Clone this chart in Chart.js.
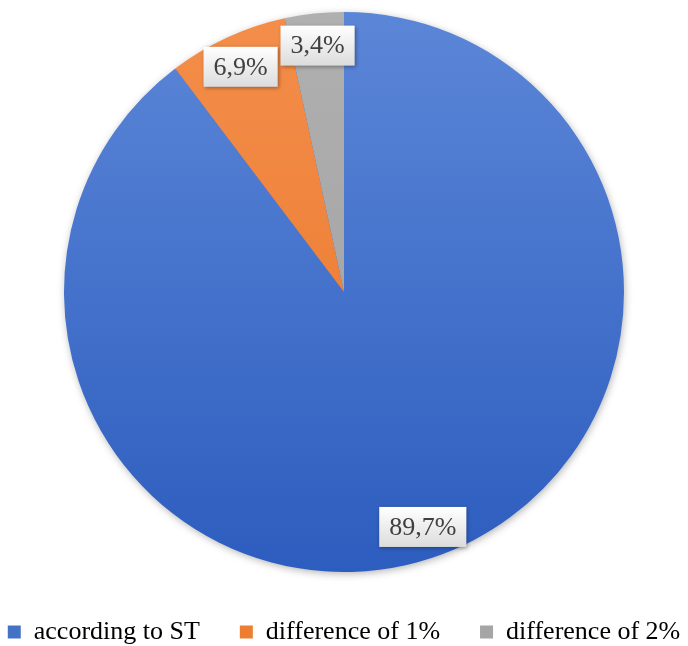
<!DOCTYPE html>
<html>
<head>
<meta charset="utf-8">
<script src="https://cdn.jsdelivr.net/npm/chart.js@4/dist/chart.umd.min.js"></script>
<style>
html,body{margin:0;padding:0;background:#fff;overflow:hidden;}
#wrap{width:688px;height:646px;position:relative;overflow:hidden;}
#c{position:absolute;left:-36px;top:0;}
</style>
</head>
<body>
<div id="wrap"><canvas id="c" width="760" height="646"></canvas></div>
<script>
const categories = ['according to ST', 'difference of 1%', 'difference of 2%'];
const values = [89.7, 6.9, 3.4];
const valueLabels = ['89,7%', '6,9%', '3,4%'];
const colorTop = ['#5C87D8', '#F48E4A', '#B0B0B0'];
const colorBottom = ['#2C5CBE', '#E8752A', '#9E9E9E'];
const legendColors = ['#4472C4', '#ED7D31', '#A5A5A5'];

const SERIF = '"Liberation Serif", "Times New Roman", serif';

function sliceFill(ctx) {
  const chart = ctx.chart;
  const area = chart.chartArea;
  if (!area) return legendColors[ctx.dataIndex];
  const meta = chart.getDatasetMeta(0);
  const el = meta.data[ctx.dataIndex];
  let cy = (area.top + area.bottom) / 2, r = Math.min(area.width, area.height) / 2;
  if (el && el.outerRadius) { cy = el.y; r = el.outerRadius; }
  const g = chart.ctx.createLinearGradient(0, cy - r, 0, cy + r);
  g.addColorStop(0, colorTop[ctx.dataIndex]);
  g.addColorStop(1, colorBottom[ctx.dataIndex]);
  return g;
}

const shadowPlugin = {
  id: 'pieShadow',
  beforeDatasetsDraw(chart) {
    const el = chart.getDatasetMeta(0).data[0];
    if (!el) return;
    const ctx = chart.ctx;
    ctx.save();
    ctx.shadowColor = 'rgba(0,0,0,0.35)';
    ctx.shadowBlur = 9;
    ctx.shadowOffsetX = 1;
    ctx.shadowOffsetY = 2;
    ctx.fillStyle = '#3A68C6';
    ctx.beginPath();
    ctx.arc(el.x, el.y, el.outerRadius - 1, 0, Math.PI * 2);
    ctx.fill();
    ctx.restore();
  }
};

const labelPlugin = {
  id: 'boxLabels',
  afterDatasetsDraw(chart) {
    const ctx = chart.ctx;
    const meta = chart.getDatasetMeta(0);
    ctx.save();
    ctx.font = '26px ' + SERIF;
    ctx.textAlign = 'center';
    ctx.textBaseline = 'middle';
    meta.data.forEach((el, i) => {
      const mid = (el.startAngle + el.endAngle) / 2;
      const r = el.outerRadius * 0.885;
      const x = el.x + Math.cos(mid) * r;
      const y = el.y + Math.sin(mid) * r;
      const txt = valueLabels[i];
      const w = ctx.measureText(txt).width + 20;
      const h = 40;
      const g = ctx.createLinearGradient(0, y - h / 2, 0, y + h / 2);
      g.addColorStop(0, '#FFFFFF');
      g.addColorStop(1, '#DCDCDC');
      ctx.save();
      ctx.shadowColor = 'rgba(0,0,0,0.35)';
      ctx.shadowBlur = 4;
      ctx.shadowOffsetX = 1;
      ctx.shadowOffsetY = 1;
      ctx.fillStyle = g;
      ctx.fillRect(x - w / 2, y - h / 2, w, h);
      ctx.restore();
      ctx.fillStyle = '#404040';
      ctx.fillText(txt, x, y + 1);
    });
    ctx.restore();
  }
};

new Chart(document.getElementById('c'), {
  type: 'pie',
  data: {
    labels: categories,
    datasets: [{
      data: values,
      backgroundColor: sliceFill,
      borderWidth: 0,
      hoverOffset: 0,
      radius: 280
    }]
  },
  options: {
    responsive: false,
    devicePixelRatio: 1,
    animation: false,
    events: [],
    layout: { padding: { top: 5, bottom: 0, left: 0, right: 0 } },
    plugins: {
      tooltip: { enabled: false },
      legend: {
        position: 'bottom',
        maxHeight: 67,
        labels: {
          boxWidth: 13,
          boxHeight: 13,
          padding: 40,
          color: '#595959',
          font: { family: SERIF, size: 26 },
          generateLabels(chart) {
            return categories.map((c, i) => ({
              text: c,
              fillStyle: legendColors[i],
              strokeStyle: legendColors[i],
              lineWidth: 0,
              hidden: false,
              index: i
            }));
          }
        }
      }
    }
  },
  plugins: [shadowPlugin, labelPlugin]
});
</script>
</body>
</html>
